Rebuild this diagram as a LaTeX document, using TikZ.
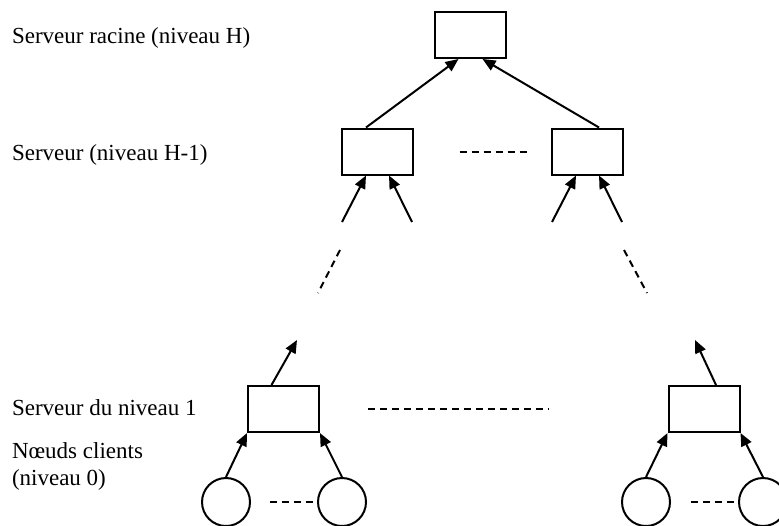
\documentclass[tikz,border=0pt]{standalone}
\usepackage{fontspec}
\setmainfont{Liberation Serif}
\usetikzlibrary{arrows.meta}

\begin{document}
\begin{tikzpicture}[
    x=0.5pt, y=-0.5pt,
    line width=1pt,
    boite/.style={draw, rectangle, inner sep=0pt, minimum width=35.5pt, minimum height=23pt},
    client/.style={draw, circle, inner sep=0pt, minimum size=24pt},
    fleche/.style={-{Triangle[length=6.5pt, width=5.5pt]}},
    pointille/.style={dash pattern=on 3.5pt off 2.5pt},
    legende/.style={anchor=base west, inner sep=0pt, align=left,
      font=\fontsize{11.5}{13.5}\selectfont},
  ]
  \clip (0,0) rectangle (779,525);
  % les niveaux
  \node[legende] (lblH)  at (11,43)  {Serveur racine (niveau H)};
  \node[legende] (lblH1) at (11,160) {Serveur (niveau H-1)};
  \node[legende] (lbl1)  at (11,415) {Serveur du niveau 1};
  \node[legende] (lbl0)  at (11,485) {Nœuds clients\\(niveau 0)};
  % serveurs
  \node[boite] (racine) at (470.5,35)  {};
  \node[boite] (srvG)   at (377,151.5) {};
  \node[boite] (srvD)   at (587,151.5) {};
  \node[boite] (srv1G)  at (283.5,409) {};
  \node[boite] (srv1D)  at (704,409)   {};
  % clients
  \node[client] (cl1) at (226,502) {};
  \node[client] (cl2) at (342,502) {};
  \node[client] (cl3) at (646,502) {};
  \node[client] (cl4) at (763,502) {};
  % extremites libres
  \coordinate (bG1) at (342,222);
  \coordinate (bG2) at (412,222);
  \coordinate (bD1) at (552,222);
  \coordinate (bD2) at (622,222);
  \coordinate (hG)  at (297,340);
  \coordinate (hD)  at (695,340);
  \coordinate (pG1) at (340,250);
  \coordinate (pG2) at (318,293);
  \coordinate (pD1) at (624,250);
  \coordinate (pD2) at (647,293);
  % vers la racine
  \draw[fleche] ([xshift=-5.5pt]srvG.north) -- ([xshift=-6pt]racine.south);
  \draw[fleche] ([xshift=6pt]srvD.north) -- ([xshift=6pt]racine.south);
  % vers le niveau H-1
  \draw[fleche] (bG1) -- ([xshift=-5.5pt]srvG.south);
  \draw[fleche] (bG2) -- ([xshift=6pt]srvG.south);
  \draw[fleche] (bD1) -- ([xshift=-5.5pt]srvD.south);
  \draw[fleche] (bD2) -- ([xshift=6pt]srvD.south);
  \draw[pointille] (pG1) -- (pG2);
  \draw[pointille] (pD1) -- (pD2);
  \draw[pointille] ([xshift=23pt]srvG.east) -- ([xshift=-11pt]srvD.west);
  % niveau 1
  \draw[fleche] ([xshift=-6pt]srv1G.north) -- (hG);
  \draw[fleche] ([xshift=6pt]srv1D.north) -- (hD);
  \draw[pointille] ([xshift=24pt]srv1G.east) -- ([xshift=-59.5pt]srv1D.west);
  \draw[fleche] (cl1.north) -- (srv1G.south west);
  \draw[fleche] (cl2.north) -- (srv1G.south east);
  \draw[fleche] (cl3.north) -- (srv1D.south west);
  \draw[fleche] (cl4.north) -- (srv1D.south east);
  \draw[pointille] ([xshift=-23.5pt]cl2.west) -- (cl2.west);
  \draw[pointille] ([xshift=-23.5pt]cl4.west) -- (cl4.west);
\end{tikzpicture}
\end{document}
